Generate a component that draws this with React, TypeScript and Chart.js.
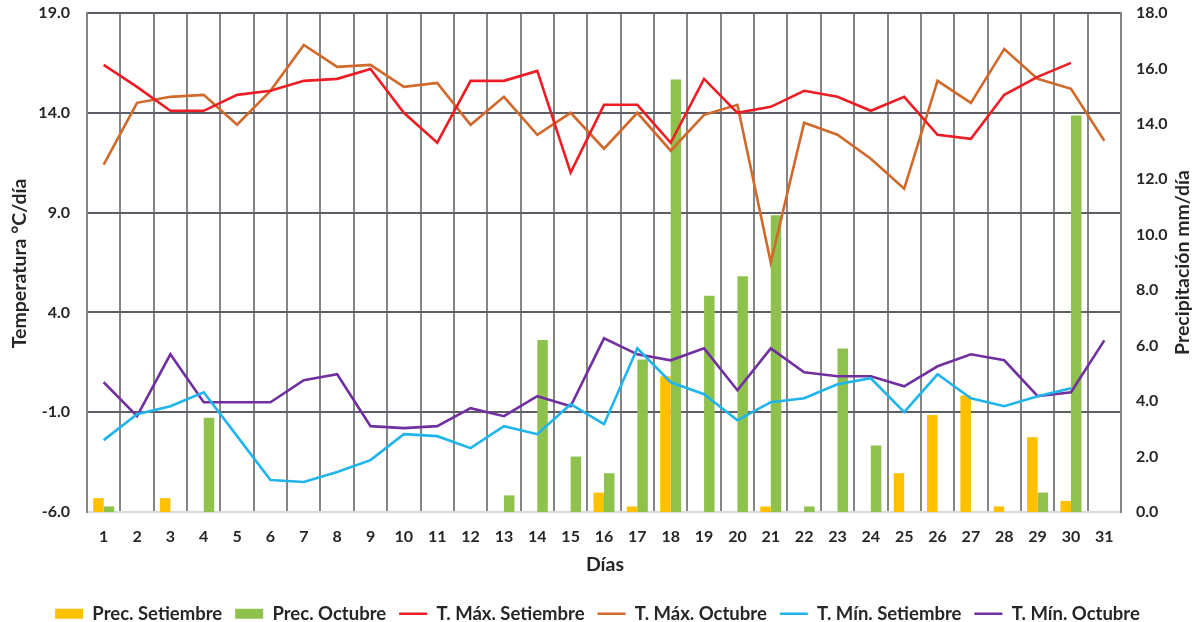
import React, { useEffect, useRef } from "react";
import { Chart, registerables } from "chart.js";

Chart.register(...registerables);

const days = ["1","2","3","4","5","6","7","8","9","10","11","12","13","14","15","16","17","18","19","20","21","22","23","24","25","26","27","28","29","30","31"];

const precSetiembre = [0.5,0,0.5,0,0,0,0,0,0,0,0,0,0,0,0,0.7,0.2,4.9,0,0,0.2,0,0,0,1.4,3.5,4.2,0.2,2.7,0.4,null];
const precOctubre = [0.2,0,0,3.4,0,0,0,0,0,0,0,0,0.6,6.2,2.0,1.4,5.5,15.6,7.8,8.5,10.7,0.2,5.9,2.4,0,0,0,0,0.7,14.3,0];
const tMaxSetiembre = [16.4,15.3,14.1,14.1,14.9,15.1,15.6,15.7,16.2,14.0,12.5,15.6,15.6,16.1,11.0,14.4,14.4,12.5,15.7,14.0,14.3,15.1,14.8,14.1,14.8,12.9,12.7,14.9,15.8,16.5,null];
const tMaxOctubre = [11.4,14.5,14.8,14.9,13.4,15.1,17.4,16.3,16.4,15.3,15.5,13.4,14.8,12.9,14.0,12.2,14.0,12.1,13.9,14.4,6.5,13.5,12.9,11.7,10.2,15.6,14.5,17.2,15.7,15.2,12.6];
const tMinSetiembre = [-2.4,-1.1,-0.7,0.0,-2.2,-4.4,-4.5,-4.0,-3.4,-2.1,-2.2,-2.8,-1.7,-2.1,-0.6,-1.6,2.2,0.5,-0.1,-1.4,-0.5,-0.3,0.4,0.7,-1.0,0.9,-0.3,-0.7,-0.2,0.2,null];
const tMinOctubre = [0.5,-1.2,1.9,-0.5,-0.5,-0.5,0.6,0.9,-1.7,-1.8,-1.7,-0.8,-1.2,-0.2,-0.7,2.7,1.9,1.6,2.2,0.1,2.2,1.0,0.8,0.8,0.3,1.3,1.9,1.6,-0.2,0.0,2.6];

const seriesNames = ["Prec. Setiembre","Prec. Octubre","T. Máx. Setiembre","T. Máx. Octubre","T. Mín. Setiembre","T. Mín. Octubre"];
const leftTitle = "Temperatura °C/día";
const rightTitle = "Precipitación mm/día";
const xTitle = "Días";

const FONT = "Lato, 'Noto Sans', sans-serif";
const TEXT = "#262626";
const GRID_V = "#858585";
const GRID_H = "#5e5e66";
const PAD_BOTTOM = -11;

const titlesPlugin = {
  id: "axisTitles",
  afterDraw(chart: any) {
    const ctx = chart.ctx;
    const ca = chart.chartArea;
    const cy = (ca.top + ca.bottom) / 2;
    ctx.save();
    ctx.font = `bold 19.5px ${FONT}`;
    ctx.fillStyle = TEXT;
    ctx.textAlign = "center";
    ctx.textBaseline = "middle";
    ctx.save();
    ctx.translate(20, cy + 1);
    ctx.rotate(-Math.PI / 2);
    ctx.fillText(leftTitle, 0, 0);
    ctx.restore();
    ctx.save();
    ctx.translate(1183, cy);
    ctx.rotate(-Math.PI / 2);
    ctx.fillText(rightTitle, 0, 0);
    ctx.restore();
    ctx.fillText(xTitle, (ca.left + ca.right) / 2 + 1, 565);
    ctx.restore();
  },
};

export default function App() {
  const ref = useRef<HTMLCanvasElement>(null);
  useEffect(() => {
    if (!ref.current) return;
    const lineDs = (label: string, data: any[], color: string) => ({
      type: "line" as const,
      label,
      data,
      borderColor: color,
      backgroundColor: color,
      borderWidth: 2.6,
      pointRadius: 0,
      tension: 0,
      yAxisID: "y",
      order: 1,
    });
    const tickFont = { family: FONT, size: 16, weight: "bold" as const };
    const fitY = (width: number) => (scale: any) => {
      scale.width = width;
      scale.paddingTop = 0;
      scale.paddingBottom = 0;
    };
    const chart = new Chart(ref.current, {
      type: "bar",
      data: {
        labels: days,
        datasets: [
          { type: "bar", label: seriesNames[0], data: precSetiembre, backgroundColor: "#FFC000", yAxisID: "y1", order: 2, barPercentage: 1, categoryPercentage: 0.63 } as any,
          { type: "bar", label: seriesNames[1], data: precOctubre, backgroundColor: "#8FC14D", yAxisID: "y1", order: 2, barPercentage: 1, categoryPercentage: 0.63 } as any,
          lineDs(seriesNames[2], tMaxSetiembre, "#EE1C24"),
          lineDs(seriesNames[3], tMaxOctubre, "#D0692A"),
          lineDs(seriesNames[4], tMinSetiembre, "#1FB4EC"),
          lineDs(seriesNames[5], tMinOctubre, "#7030A0"),
        ],
      },
      options: {
        animation: false,
        responsive: true,
        maintainAspectRatio: false,
        layout: { padding: { left: 0, right: 0, top: 13, bottom: PAD_BOTTOM } },
        plugins: {
          tooltip: { enabled: false },
          legend: {
            position: "bottom",
            align: "center",
            labels: {
              usePointStyle: true,
              pointStyleWidth: 28,
              boxHeight: 10,
              padding: 13,
              color: TEXT,
              font: { family: FONT, size: 18.5, weight: "bold" },
              generateLabels(chart: any) {
                const items = Chart.defaults.plugins.legend.labels.generateLabels(chart);
                return items
                  .map((it: any) => {
                    const ds = chart.data.datasets[it.datasetIndex];
                    if (ds.type === "line") {
                      it.pointStyle = "line";
                      it.lineWidth = 2.6;
                      it.strokeStyle = ds.borderColor;
                    } else {
                      it.pointStyle = "rect";
                      it.lineWidth = 0;
                      it.strokeStyle = ds.backgroundColor;
                    }
                    return it;
                  })
                  .sort((a: any, b: any) => a.datasetIndex - b.datasetIndex);
              },
            },
          },
        },
        scales: {
          x: {
            offset: true,
            grid: { offset: true, color: GRID_V, lineWidth: 2, drawTicks: false },
            border: { color: "#d9d9d9", width: 2 },
            ticks: { color: TEXT, padding: 15, font: tickFont, maxRotation: 0, autoSkip: false },
            afterFit(scale: any) {
              const lh = scale.chart.legend ? scale.chart.legend.height : 0;
              scale.height = scale.chart.height - 512 - lh - PAD_BOTTOM;
            },
          },
          y: {
            position: "left",
            min: -6,
            max: 19,
            ticks: { stepSize: 5, color: TEXT, padding: 17, font: tickFont, callback: (v: any) => Number(v).toFixed(1) },
            grid: { color: (c: any) => (c.tick && c.tick.value === -6 ? "#d9d9d9" : GRID_H), lineWidth: 2, drawTicks: false },
            border: { color: GRID_V, width: 2 },
            afterFit: fitY(87),
          },
          y1: {
            position: "right",
            min: 0,
            max: 18,
            ticks: { stepSize: 2, color: TEXT, padding: 15, font: tickFont, callback: (v: any) => Number(v).toFixed(1) },
            grid: { display: false, drawTicks: false },
            border: { color: GRID_V, width: 2 },
            afterFit: fitY(74),
          },
        },
      },
      plugins: [titlesPlugin],
    });
    return () => chart.destroy();
  }, []);
  return (
    <div style={{ position: "absolute", left: 0, top: 0, width: 1195, height: 622, background: "#fff" }}>
      <canvas ref={ref} />
    </div>
  );
}
